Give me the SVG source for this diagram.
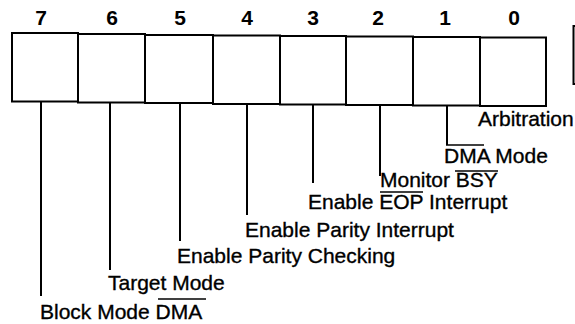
<svg xmlns="http://www.w3.org/2000/svg" width="575" height="324" viewBox="0 0 575 324">
<style>
.cell{fill:#fff;stroke:#000;stroke-width:2}
.num{font-family:"Liberation Sans",Arial,Helvetica,sans-serif;font-weight:bold;font-size:21px;fill:#000;text-anchor:middle}
.lbl{font-family:"Liberation Sans",Arial,Helvetica,sans-serif;font-size:21px;fill:#000;stroke:#000;stroke-width:0.35}
.lead{fill:none;stroke:#000;stroke-width:2}
.ov{stroke:#000;stroke-width:1.5}
</style>
<rect width="575" height="324" fill="#fff"/>
<g id="bit7"><rect class="cell" x="12" y="33" width="66" height="68.5"/><text class="num" x="41" y="25">7</text></g>
<g id="bit6"><rect class="cell" x="78" y="34" width="67" height="68.5"/><text class="num" x="112" y="25">6</text></g>
<g id="bit5"><rect class="cell" x="145" y="35" width="68" height="68"/><text class="num" x="180" y="25">5</text></g>
<g id="bit4"><rect class="cell" x="213" y="35.5" width="67" height="68.5"/><text class="num" x="247" y="25">4</text></g>
<g id="bit3"><rect class="cell" x="280" y="36" width="66" height="68.5"/><text class="num" x="313" y="25">3</text></g>
<g id="bit2"><rect class="cell" x="346" y="36.5" width="67" height="68.5"/><text class="num" x="378" y="25">2</text></g>
<g id="bit1"><rect class="cell" x="413" y="37" width="67" height="68.5"/><text class="num" x="445" y="25">1</text></g>
<g id="bit0"><rect class="cell" x="480" y="37.5" width="66" height="68.5"/><text class="num" x="514" y="25">0</text></g>
<g id="next-register"><path class="lead" d="M580,26 H573.5 V84 H580"/></g>
<g id="connectors">
<path class="lead" d="M41,101.5 V296"/>
<path class="lead" d="M110,102.5 V270"/>
<path class="lead" d="M180,103 V241"/>
<path class="lead" d="M247,104 V215"/>
<path class="lead" d="M313,104.5 V183"/>
<path class="lead" d="M380,105 V176"/>
<path class="lead" d="M447,105.5 V145"/>
</g>
<g id="label-arbitration"><text class="lbl" x="478" y="126">Arbitration</text></g>
<g id="label-dma-mode"><text class="lbl" x="444" y="163">DMA Mode</text><line class="ov" x1="446" y1="145" x2="484" y2="145"/></g>
<g id="label-monitor-bsy"><text class="lbl" x="380" y="187">Monitor BSY</text><line class="ov" x1="455" y1="171" x2="498" y2="171"/></g>
<g id="label-enable-eop"><text class="lbl" x="308" y="209">Enable EOP Interrupt</text><line class="ov" x1="380" y1="192" x2="423" y2="192"/></g>
<g id="label-parity-int"><text class="lbl" x="245" y="237">Enable Parity Interrupt</text></g>
<g id="label-parity-check"><text class="lbl" x="177" y="263">Enable Parity Checking</text></g>
<g id="label-target"><text class="lbl" x="108" y="290">Target Mode</text></g>
<g id="label-block"><text class="lbl" x="40" y="319">Block Mode DMA</text><line class="ov" x1="158" y1="299" x2="206" y2="299"/></g>
</svg>
